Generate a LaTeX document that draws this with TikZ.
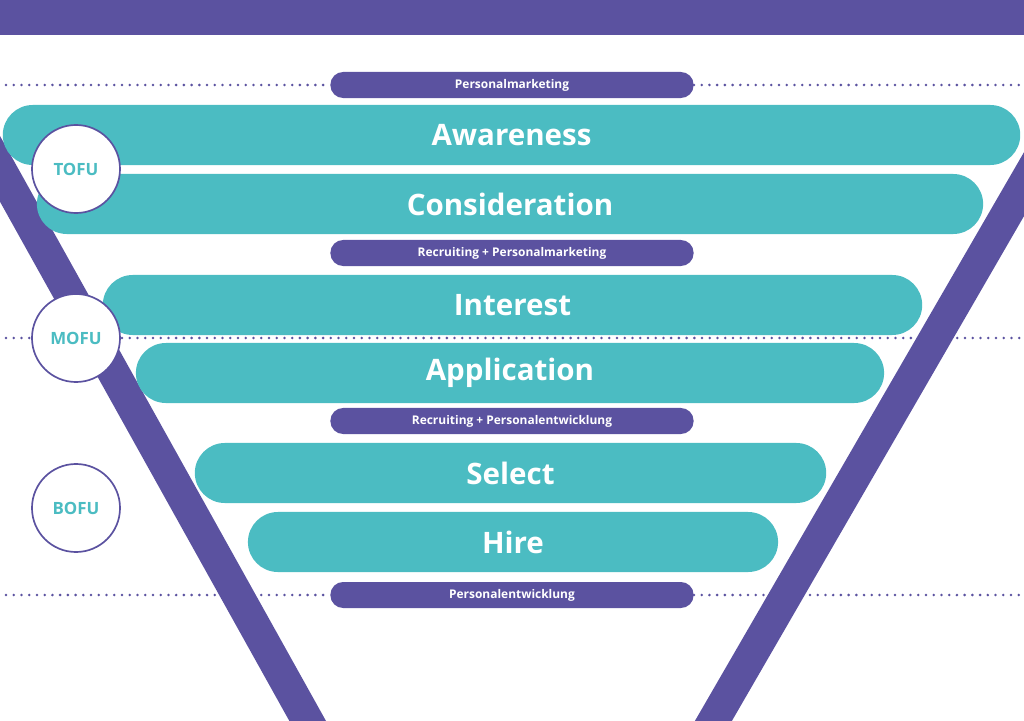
\documentclass[tikz,border=0pt]{standalone}
\usepackage{fontspec}
\setmainfont{Open Sans}
\usetikzlibrary{positioning}
\definecolor{fpurple}{HTML}{5B52A0}
\definecolor{fteal}{HTML}{4BBCC2}
\tikzset{
  stage/.style={fill=fteal,text=white,rounded corners=0.75cm,minimum height=1.5cm,inner sep=0pt,font=\bfseries\fontsize{21}{24}\selectfont},
  pill/.style={fill=fpurple,text=white,rounded corners=0.32cm,minimum width=9.08cm,minimum height=0.65cm,inner sep=0pt,font=\bfseries\fontsize{8.5}{10}\selectfont},
  phase/.style={circle,draw=fpurple,line width=1.2pt,fill=white,text=fteal,minimum size=2.2cm,inner sep=0pt,font=\bfseries\fontsize{12}{14}\selectfont},
  dots/.style={fpurple,line width=2pt,dash pattern=on 0pt off 5.5pt,line cap=round}
}
\begin{document}
\begin{tikzpicture}[x=0.025cm,y=-0.025cm]
\useasboundingbox (0,0) rectangle (1024,721);
	\fill[fpurple] (0,0) rectangle (1024,35);
	% funnel walls
	\draw[fpurple,line width=0.8cm] (-30,115) -- (335,770);
	\draw[fpurple,line width=0.8cm] (1064,115) -- (685,770);
	% labels between stages
	\node[pill] (p1) at (512,85) {Personalmarketing};
	\node[pill] (p2) at (512,253) {Recruiting + Personalmarketing};
	\node[pill] (p3) at (512,421) {Recruiting + Personalentwicklung};
	\node[pill] (p4) at (512,595) {Personalentwicklung};
	\coordinate (l1) at (6,85); \coordinate (r1) at (1020,85);
	\coordinate (l2) at (6,338); \coordinate (r2) at (1020,338);
	\coordinate (l4) at (6,595); \coordinate (r4) at (1020,595);
	\draw[dots] (l1) -- (p1.west);
	\draw[dots] (p1.east) -- (r1);
	\draw[dots] (l2) -- (r2);
	\draw[dots] (l4) -- (p4.west);
	\draw[dots] (p4.east) -- (r4);
	% stages
	\node[stage,minimum width=25.43cm] (awareness) at (511.5,135) {Awareness};
	\node[stage,minimum width=23.65cm] (consideration) at (510,204) {Consideration};
	\node[stage,minimum width=20.48cm] (interest) at (512.5,305) {Interest};
	\node[stage,minimum width=18.70cm] (application) at (510,373) {Application};
	\node[stage,minimum width=15.78cm] (select) at (510.5,473) {Select};
	\node[stage,minimum width=13.25cm] (hire) at (513,542) {Hire};
	% phases
	\node[phase] (tofu) at (76,169) {TOFU};
	\node[phase] (mofu) at (76,338) {MOFU};
	\node[phase] (bofu) at (76,508) {BOFU};
\end{tikzpicture}
\end{document}
